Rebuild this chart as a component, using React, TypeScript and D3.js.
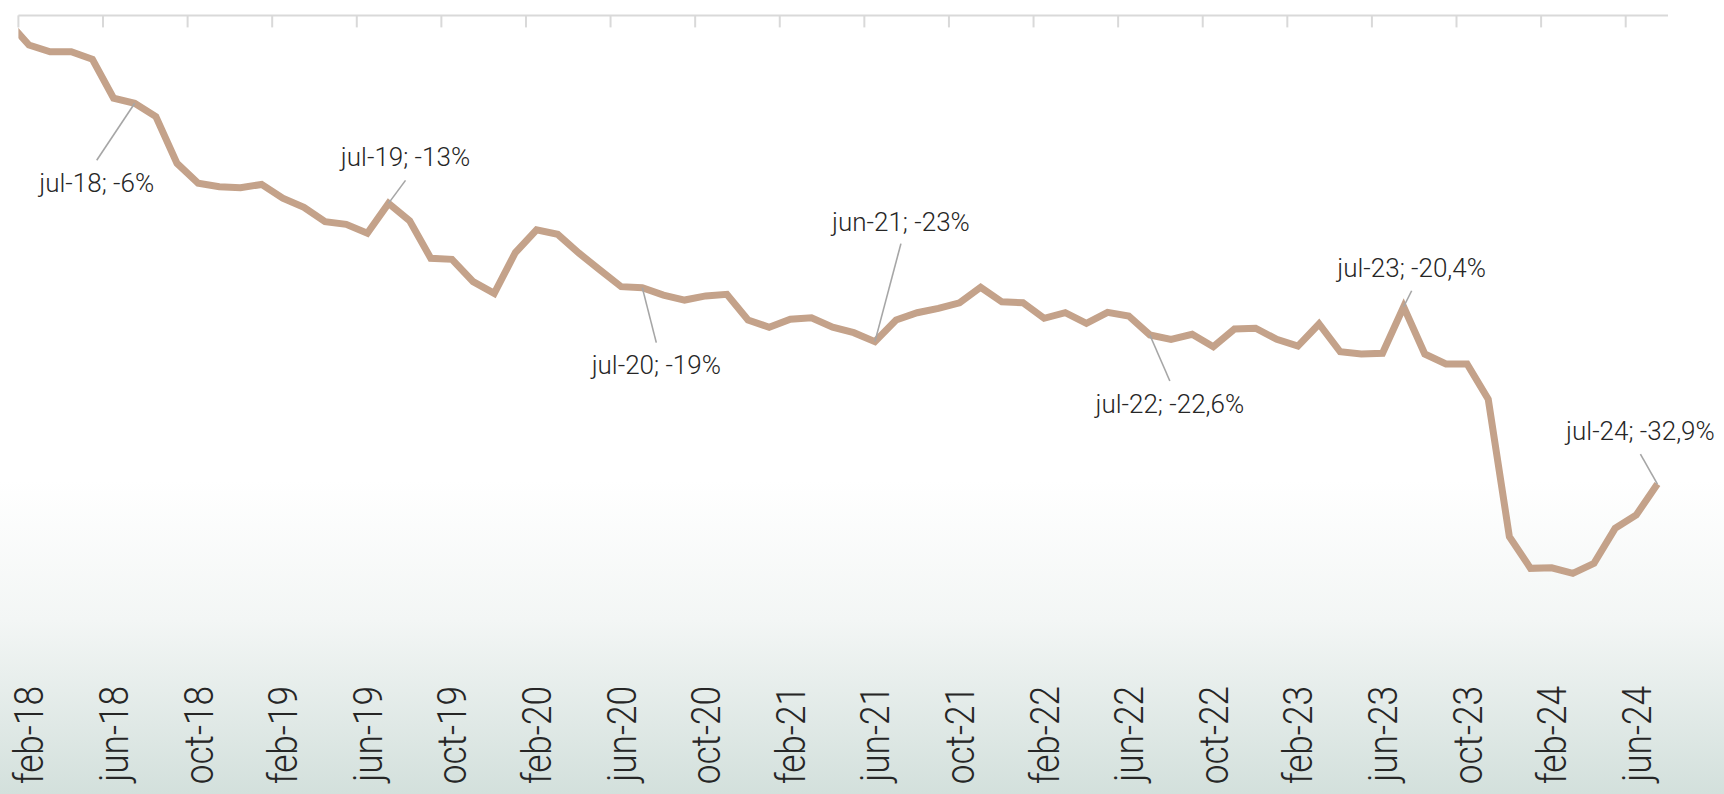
// App.tsx
import React from 'react';
import * as d3 from 'd3';

// monthly change vs. jan-18 base, in %
const monthNames = ['jan', 'feb', 'mar', 'apr', 'may', 'jun', 'jul', 'aug', 'sep', 'oct', 'nov', 'dec'];
const years = ['18', '19', '20', '21', '22', '23', '24'];
const months = years.flatMap((yy) => monthNames.map((m) => `${m}-${yy}`)).slice(0, 79); // jan-18 .. jul-24

const values = [
  -0.43, -2.08, -2.55, -2.55, -3.08, -5.82, -6.17, -7.11, -10.39, -11.79, -12.03, -12.1,
  -11.87, -12.84, -13.48, -14.49, -14.67, -15.3, -13.2, -14.42, -17.06, -17.13, -18.7, -19.52,
  -16.65, -15.06, -15.37, -16.69, -17.88, -19.05, -19.12, -19.64, -19.99, -19.7, -19.59, -21.39,
  -21.9, -21.34, -21.23, -21.9, -22.28, -22.91, -21.39, -20.88, -20.57, -20.18, -19.09, -20.11,
  -20.18, -21.27, -20.88, -21.62, -20.85, -21.11, -22.44, -22.75, -22.39, -23.27, -22.02, -21.97,
  -22.75, -23.22, -21.67, -23.62, -23.78, -23.73, -20.46, -23.78, -24.48, -24.48, -26.96, -36.61,
  -38.83, -38.79, -39.18, -38.48, -36.02, -35.08, -32.91,
];

const tickLabels = [
  'feb-18', 'jun-18', 'oct-18', 'feb-19', 'jun-19', 'oct-19', 'feb-20', 'jun-20', 'oct-20', 'feb-21',
  'jun-21', 'oct-21', 'feb-22', 'jun-22', 'oct-22', 'feb-23', 'jun-23', 'oct-23', 'feb-24', 'jun-24',
];

const annotationMonths = ['jul-18', 'jul-19', 'jul-20', 'jun-21', 'jul-22', 'jul-23', 'jul-24'];
const annotationTexts = [
  'jul-18; -6%', 'jul-19; -13%', 'jul-20; -19%', 'jun-21; -23%',
  'jul-22; -22,6%', 'jul-23; -20,4%', 'jul-24; -32,9%',
];
// label placement relative to the point: [dx, leader end dy, text baseline dy]
const annotationOffsets = [
  [-38, 57, 89], [17, -23, -37], [14, 55, 86], [26, -98, -111],
  [20, 46, 78], [8, -16, -30], [-17, -30, -44],
];

const W = 1724;
const H = 794;
const LINE = '#c4a28a';
const FONT = "Roboto, 'Liberation Sans', sans-serif";

export default function App() {
  // x in month index, jan-18 = 0; plot area covers feb-18 .. jul-24 bands
  const x = d3.scaleLinear().domain([0.5, 78.5]).range([18.4, 1668]);
  const y = d3.scaleLinear().domain([0, -40]).range([15.4, 15.4 + 40 * 14.24]);

  const line = d3
    .line<number>()
    .x((_, i) => x(i))
    .y((d) => y(d));

  const axisY = y(0);

  return (
    <svg
      width={W}
      height={H}
      style={{ position: 'absolute', left: 0, top: 0, display: 'block' }}
    >
      <defs>
        <linearGradient id="bg" gradientUnits="userSpaceOnUse" x1={0} y1={0} x2={0} y2={H}>
          <stop offset={480 / H} stopColor="#ffffff" />
          <stop offset={620 / H} stopColor="#f3f6f5" />
          <stop offset={1} stopColor="#d3e0dc" />
        </linearGradient>
        <clipPath id="plot">
          <rect x={x(0.5)} y={0} width={x(78.5) - x(0.5) + 20} height={H} />
        </clipPath>
      </defs>
      <rect x={0} y={0} width={W} height={H} fill="url(#bg)" />

      {/* top axis with ticks every 4 months */}
      <line x1={x(0.5)} x2={x(78.5)} y1={axisY} y2={axisY} stroke="#d9d9d9" strokeWidth={2} />
      {tickLabels.map((t, k) => (
        <line
          key={t}
          x1={x(0.5 + 4 * k)}
          x2={x(0.5 + 4 * k)}
          y1={axisY}
          y2={axisY + 12}
          stroke="#d9d9d9"
          strokeWidth={2}
        />
      ))}

      <path
        d={line(values) || ''}
        fill="none"
        stroke={LINE}
        strokeWidth={7}
        strokeLinejoin="miter"
        clipPath="url(#plot)"
      />

      {annotationMonths.map((m, k) => {
        const i = months.indexOf(m);
        const px = x(i);
        const py = y(values[i]);
        const [dx, ldy, tdy] = annotationOffsets[k];
        return (
          <g key={m}>
            <line x1={px} y1={py} x2={px + dx} y2={py + ldy} stroke="#a6a6a6" strokeWidth={1.6} />
            <text
              x={px + dx}
              y={py + tdy}
              textAnchor="middle"
              fontFamily={FONT}
              fontWeight={300}
              fontSize={26}
              fill="#262626"
            >
              {annotationTexts[k]}
            </text>
          </g>
        );
      })}

      {tickLabels.map((t) => {
        const i = months.indexOf(t);
        return (
          <text
            key={t}
            transform={`translate(${x(i)},686) rotate(-90) scale(0.88,1)`}
            dy="0.36em"
            textAnchor="end"
            fontFamily={FONT}
            fontWeight={300}
            fontSize={40}
            fill="#262626"
          >
            {t}
          </text>
        );
      })}
    </svg>
  );
}
